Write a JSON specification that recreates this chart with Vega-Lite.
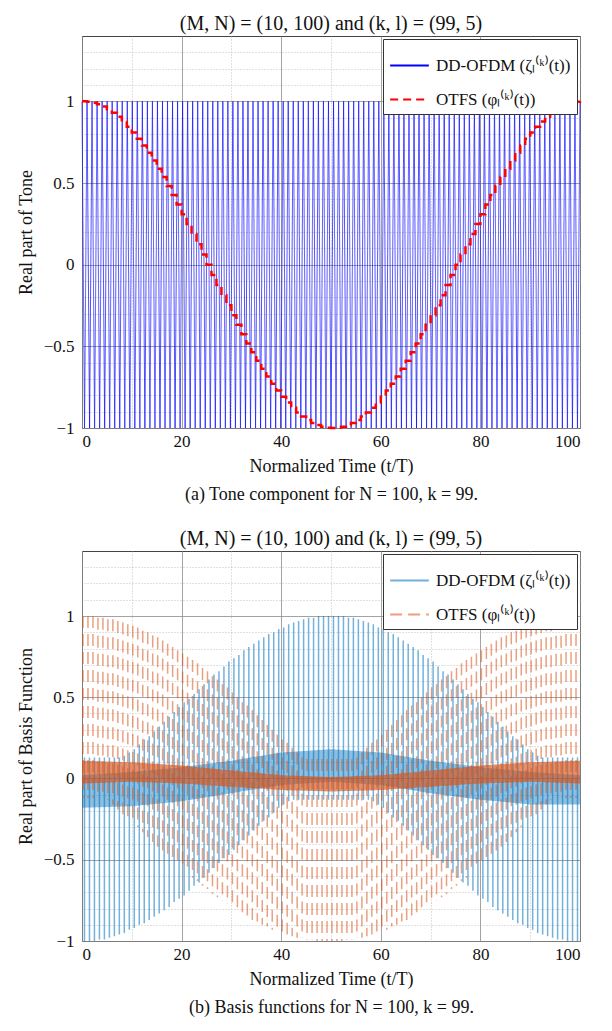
{
"$schema": "https://vega.github.io/schema/vega-lite/v6.json",
"padding": {"left": 16, "top": 13, "right": 8, "bottom": 4},
"background": "white",
"spacing": 24,
"config": {
  "font": "Liberation Serif",
  "view": {"stroke": "#444", "strokeWidth": 1},
  "axis": {"domain": false, "ticks": false, "grid": true, "gridWidth": 0.8, "labelFont": "Liberation Serif", "labelFontSize": 17, "labelColor": "#111", "titleFont": "Liberation Serif", "titleFontSize": 18, "titleFontWeight": "normal", "titleColor": "#111"},
  "axisX": {"labelPadding": 5, "titlePadding": 8, "titleLineHeight": 28},
  "axisY": {"labelPadding": 8, "titlePadding": 8},
  "title": {"font": "Liberation Serif", "fontSize": 20, "fontWeight": "normal", "color": "#111", "offset": 2, "anchor": "middle"},
  "legend": {"orient": "top-right", "offset": 3, "padding": 6, "strokeColor": "#333", "fillColor": "white", "labelFont": "Liberation Serif", "labelFontSize": 17, "labelColor": "#111", "symbolType": "stroke", "symbolSize": 1500, "symbolStrokeWidth": 1.8, "rowPadding": 5, "labelLimit": 400, "labelOffset": 6, "cornerRadius": 0}
},
"resolve": {"scale": {"color": "independent", "strokeDash": "independent"}, "legend": {"color": "independent", "strokeDash": "independent"}},
"datasets": {
  "topBlue": [{"t":0,"v":1},{"t":0.51,"v":-1},{"t":1.01,"v":1},{"t":1.52,"v":-1},{"t":2.02,"v":1},{"t":2.53,"v":-1},{"t":3.03,"v":1},{"t":3.54,"v":-1},{"t":4.04,"v":1},{"t":4.55,"v":-1},{"t":5.05,"v":1},{"t":5.56,"v":-1},{"t":6.06,"v":1},{"t":6.57,"v":-1},{"t":7.07,"v":1},{"t":7.58,"v":-1},{"t":8.08,"v":1},{"t":8.59,"v":-1},{"t":9.09,"v":1},{"t":9.6,"v":-1},{"t":10.1,"v":1},{"t":10.61,"v":-1},{"t":11.11,"v":1},{"t":11.62,"v":-1},{"t":12.12,"v":1},{"t":12.63,"v":-1},{"t":13.13,"v":1},{"t":13.64,"v":-1},{"t":14.14,"v":1},{"t":14.65,"v":-1},{"t":15.15,"v":1},{"t":15.66,"v":-1},{"t":16.16,"v":1},{"t":16.67,"v":-1},{"t":17.17,"v":1},{"t":17.68,"v":-1},{"t":18.18,"v":1},{"t":18.69,"v":-1},{"t":19.19,"v":1},{"t":19.7,"v":-1},{"t":20.2,"v":1},{"t":20.71,"v":-1},{"t":21.21,"v":1},{"t":21.72,"v":-1},{"t":22.22,"v":1},{"t":22.73,"v":-1},{"t":23.23,"v":1},{"t":23.74,"v":-1},{"t":24.24,"v":1},{"t":24.75,"v":-1},{"t":25.25,"v":1},{"t":25.76,"v":-1},{"t":26.26,"v":1},{"t":26.77,"v":-1},{"t":27.27,"v":1},{"t":27.78,"v":-1},{"t":28.28,"v":1},{"t":28.79,"v":-1},{"t":29.29,"v":1},{"t":29.8,"v":-1},{"t":30.3,"v":1},{"t":30.81,"v":-1},{"t":31.31,"v":1},{"t":31.82,"v":-1},{"t":32.32,"v":1},{"t":32.83,"v":-1},{"t":33.33,"v":1},{"t":33.84,"v":-1},{"t":34.34,"v":1},{"t":34.85,"v":-1},{"t":35.35,"v":1},{"t":35.86,"v":-1},{"t":36.36,"v":1},{"t":36.87,"v":-1},{"t":37.37,"v":1},{"t":37.88,"v":-1},{"t":38.38,"v":1},{"t":38.89,"v":-1},{"t":39.39,"v":1},{"t":39.9,"v":-1},{"t":40.4,"v":1},{"t":40.91,"v":-1},{"t":41.41,"v":1},{"t":41.92,"v":-1},{"t":42.42,"v":1},{"t":42.93,"v":-1},{"t":43.43,"v":1},{"t":43.94,"v":-1},{"t":44.44,"v":1},{"t":44.95,"v":-1},{"t":45.45,"v":1},{"t":45.96,"v":-1},{"t":46.46,"v":1},{"t":46.97,"v":-1},{"t":47.47,"v":1},{"t":47.98,"v":-1},{"t":48.48,"v":1},{"t":48.99,"v":-1},{"t":49.49,"v":1},{"t":50,"v":-1},{"t":50.51,"v":1},{"t":51.01,"v":-1},{"t":51.52,"v":1},{"t":52.02,"v":-1},{"t":52.53,"v":1},{"t":53.03,"v":-1},{"t":53.54,"v":1},{"t":54.04,"v":-1},{"t":54.55,"v":1},{"t":55.05,"v":-1},{"t":55.56,"v":1},{"t":56.06,"v":-1},{"t":56.57,"v":1},{"t":57.07,"v":-1},{"t":57.58,"v":1},{"t":58.08,"v":-1},{"t":58.59,"v":1},{"t":59.09,"v":-1},{"t":59.6,"v":1},{"t":60.1,"v":-1},{"t":60.61,"v":1},{"t":61.11,"v":-1},{"t":61.62,"v":1},{"t":62.12,"v":-1},{"t":62.63,"v":1},{"t":63.13,"v":-1},{"t":63.64,"v":1},{"t":64.14,"v":-1},{"t":64.65,"v":1},{"t":65.15,"v":-1},{"t":65.66,"v":1},{"t":66.16,"v":-1},{"t":66.67,"v":1},{"t":67.17,"v":-1},{"t":67.68,"v":1},{"t":68.18,"v":-1},{"t":68.69,"v":1},{"t":69.19,"v":-1},{"t":69.7,"v":1},{"t":70.2,"v":-1},{"t":70.71,"v":1},{"t":71.21,"v":-1},{"t":71.72,"v":1},{"t":72.22,"v":-1},{"t":72.73,"v":1},{"t":73.23,"v":-1},{"t":73.74,"v":1},{"t":74.24,"v":-1},{"t":74.75,"v":1},{"t":75.25,"v":-1},{"t":75.76,"v":1},{"t":76.26,"v":-1},{"t":76.77,"v":1},{"t":77.27,"v":-1},{"t":77.78,"v":1},{"t":78.28,"v":-1},{"t":78.79,"v":1},{"t":79.29,"v":-1},{"t":79.8,"v":1},{"t":80.3,"v":-1},{"t":80.81,"v":1},{"t":81.31,"v":-1},{"t":81.82,"v":1},{"t":82.32,"v":-1},{"t":82.83,"v":1},{"t":83.33,"v":-1},{"t":83.84,"v":1},{"t":84.34,"v":-1},{"t":84.85,"v":1},{"t":85.35,"v":-1},{"t":85.86,"v":1},{"t":86.36,"v":-1},{"t":86.87,"v":1},{"t":87.37,"v":-1},{"t":87.88,"v":1},{"t":88.38,"v":-1},{"t":88.89,"v":1},{"t":89.39,"v":-1},{"t":89.9,"v":1},{"t":90.4,"v":-1},{"t":90.91,"v":1},{"t":91.41,"v":-1},{"t":91.92,"v":1},{"t":92.42,"v":-1},{"t":92.93,"v":1},{"t":93.43,"v":-1},{"t":93.94,"v":1},{"t":94.44,"v":-1},{"t":94.95,"v":1},{"t":95.45,"v":-1},{"t":95.96,"v":1},{"t":96.46,"v":-1},{"t":96.97,"v":1},{"t":97.47,"v":-1},{"t":97.98,"v":1},{"t":98.48,"v":-1},{"t":98.99,"v":1},{"t":99.49,"v":-1},{"t":100,"v":1}],
  "topRed": [{"t":0,"v":1},{"t":1,"v":0.998},{"t":2,"v":0.992},{"t":3,"v":0.982},{"t":4,"v":0.969},{"t":5,"v":0.951},{"t":6,"v":0.93},{"t":7,"v":0.905},{"t":8,"v":0.876},{"t":9,"v":0.844},{"t":10,"v":0.809},{"t":11,"v":0.771},{"t":12,"v":0.729},{"t":13,"v":0.685},{"t":14,"v":0.637},{"t":15,"v":0.588},{"t":16,"v":0.536},{"t":17,"v":0.482},{"t":18,"v":0.426},{"t":19,"v":0.368},{"t":20,"v":0.309},{"t":21,"v":0.249},{"t":22,"v":0.187},{"t":23,"v":0.125},{"t":24,"v":0.063},{"t":25,"v":0},{"t":26,"v":-0.063},{"t":27,"v":-0.125},{"t":28,"v":-0.187},{"t":29,"v":-0.249},{"t":30,"v":-0.309},{"t":31,"v":-0.368},{"t":32,"v":-0.426},{"t":33,"v":-0.482},{"t":34,"v":-0.536},{"t":35,"v":-0.588},{"t":36,"v":-0.637},{"t":37,"v":-0.685},{"t":38,"v":-0.729},{"t":39,"v":-0.771},{"t":40,"v":-0.809},{"t":41,"v":-0.844},{"t":42,"v":-0.876},{"t":43,"v":-0.905},{"t":44,"v":-0.93},{"t":45,"v":-0.951},{"t":46,"v":-0.969},{"t":47,"v":-0.982},{"t":48,"v":-0.992},{"t":49,"v":-0.998},{"t":50,"v":-1},{"t":51,"v":-0.998},{"t":52,"v":-0.992},{"t":53,"v":-0.982},{"t":54,"v":-0.969},{"t":55,"v":-0.951},{"t":56,"v":-0.93},{"t":57,"v":-0.905},{"t":58,"v":-0.876},{"t":59,"v":-0.844},{"t":60,"v":-0.809},{"t":61,"v":-0.771},{"t":62,"v":-0.729},{"t":63,"v":-0.685},{"t":64,"v":-0.637},{"t":65,"v":-0.588},{"t":66,"v":-0.536},{"t":67,"v":-0.482},{"t":68,"v":-0.426},{"t":69,"v":-0.368},{"t":70,"v":-0.309},{"t":71,"v":-0.249},{"t":72,"v":-0.187},{"t":73,"v":-0.125},{"t":74,"v":-0.063},{"t":75,"v":0},{"t":76,"v":0.063},{"t":77,"v":0.125},{"t":78,"v":0.187},{"t":79,"v":0.249},{"t":80,"v":0.309},{"t":81,"v":0.368},{"t":82,"v":0.426},{"t":83,"v":0.482},{"t":84,"v":0.536},{"t":85,"v":0.588},{"t":86,"v":0.637},{"t":87,"v":0.685},{"t":88,"v":0.729},{"t":89,"v":0.771},{"t":90,"v":0.809},{"t":91,"v":0.844},{"t":92,"v":0.876},{"t":93,"v":0.905},{"t":94,"v":0.93},{"t":95,"v":0.951},{"t":96,"v":0.969},{"t":97,"v":0.982},{"t":98,"v":0.992},{"t":99,"v":0.998},{"t":100,"v":1}],
  "botBlue": [{"t":0.5,"p":0.13,"q":-1},{"t":1.5,"p":0.13,"q":-1},{"t":2.5,"p":0.13,"q":-1},{"t":3.5,"p":0.13,"q":-0.99},{"t":4.5,"p":0.13,"q":-0.99},{"t":5.5,"p":0.13,"q":-0.98},{"t":6.5,"p":0.13,"q":-0.97},{"t":7.5,"p":0.13,"q":-0.96},{"t":8.5,"p":0.14,"q":-0.95},{"t":9.5,"p":0.16,"q":-0.93},{"t":10.5,"p":0.18,"q":-0.92},{"t":11.5,"p":0.21,"q":-0.9},{"t":12.5,"p":0.24,"q":-0.89},{"t":13.5,"p":0.26,"q":-0.87},{"t":14.5,"p":0.29,"q":-0.85},{"t":15.5,"p":0.32,"q":-0.83},{"t":16.5,"p":0.35,"q":-0.81},{"t":17.5,"p":0.38,"q":-0.79},{"t":18.5,"p":0.41,"q":-0.76},{"t":19.5,"p":0.44,"q":-0.74},{"t":20.5,"p":0.47,"q":-0.72},{"t":21.5,"p":0.49,"q":-0.69},{"t":22.5,"p":0.52,"q":-0.66},{"t":23.5,"p":0.55,"q":-0.64},{"t":24.5,"p":0.58,"q":-0.61},{"t":25.5,"p":0.61,"q":-0.58},{"t":26.5,"p":0.64,"q":-0.55},{"t":27.5,"p":0.66,"q":-0.52},{"t":28.5,"p":0.69,"q":-0.49},{"t":29.5,"p":0.72,"q":-0.47},{"t":30.5,"p":0.74,"q":-0.44},{"t":31.5,"p":0.76,"q":-0.41},{"t":32.5,"p":0.79,"q":-0.38},{"t":33.5,"p":0.81,"q":-0.35},{"t":34.5,"p":0.83,"q":-0.32},{"t":35.5,"p":0.85,"q":-0.29},{"t":36.5,"p":0.87,"q":-0.26},{"t":37.5,"p":0.89,"q":-0.24},{"t":38.5,"p":0.9,"q":-0.21},{"t":39.5,"p":0.92,"q":-0.18},{"t":40.5,"p":0.93,"q":-0.16},{"t":41.5,"p":0.95,"q":-0.14},{"t":42.5,"p":0.96,"q":-0.13},{"t":43.5,"p":0.97,"q":-0.13},{"t":44.5,"p":0.98,"q":-0.13},{"t":45.5,"p":0.99,"q":-0.13},{"t":46.5,"p":0.99,"q":-0.13},{"t":47.5,"p":1,"q":-0.13},{"t":48.5,"p":1,"q":-0.13},{"t":49.5,"p":1,"q":-0.13},{"t":50.5,"p":1,"q":-0.13},{"t":51.5,"p":1,"q":-0.13},{"t":52.5,"p":1,"q":-0.13},{"t":53.5,"p":0.99,"q":-0.13},{"t":54.5,"p":0.99,"q":-0.13},{"t":55.5,"p":0.98,"q":-0.13},{"t":56.5,"p":0.97,"q":-0.13},{"t":57.5,"p":0.96,"q":-0.13},{"t":58.5,"p":0.95,"q":-0.14},{"t":59.5,"p":0.93,"q":-0.16},{"t":60.5,"p":0.92,"q":-0.18},{"t":61.5,"p":0.9,"q":-0.21},{"t":62.5,"p":0.89,"q":-0.24},{"t":63.5,"p":0.87,"q":-0.26},{"t":64.5,"p":0.85,"q":-0.29},{"t":65.5,"p":0.83,"q":-0.32},{"t":66.5,"p":0.81,"q":-0.35},{"t":67.5,"p":0.79,"q":-0.38},{"t":68.5,"p":0.76,"q":-0.41},{"t":69.5,"p":0.74,"q":-0.44},{"t":70.5,"p":0.72,"q":-0.47},{"t":71.5,"p":0.69,"q":-0.49},{"t":72.5,"p":0.66,"q":-0.52},{"t":73.5,"p":0.64,"q":-0.55},{"t":74.5,"p":0.61,"q":-0.58},{"t":75.5,"p":0.58,"q":-0.61},{"t":76.5,"p":0.55,"q":-0.64},{"t":77.5,"p":0.52,"q":-0.66},{"t":78.5,"p":0.49,"q":-0.69},{"t":79.5,"p":0.47,"q":-0.72},{"t":80.5,"p":0.44,"q":-0.74},{"t":81.5,"p":0.41,"q":-0.76},{"t":82.5,"p":0.38,"q":-0.79},{"t":83.5,"p":0.35,"q":-0.81},{"t":84.5,"p":0.32,"q":-0.83},{"t":85.5,"p":0.29,"q":-0.85},{"t":86.5,"p":0.26,"q":-0.87},{"t":87.5,"p":0.24,"q":-0.89},{"t":88.5,"p":0.21,"q":-0.9},{"t":89.5,"p":0.18,"q":-0.92},{"t":90.5,"p":0.16,"q":-0.93},{"t":91.5,"p":0.14,"q":-0.95},{"t":92.5,"p":0.13,"q":-0.96},{"t":93.5,"p":0.13,"q":-0.97},{"t":94.5,"p":0.13,"q":-0.98},{"t":95.5,"p":0.13,"q":-0.99},{"t":96.5,"p":0.13,"q":-0.99},{"t":97.5,"p":0.13,"q":-1},{"t":98.5,"p":0.13,"q":-1},{"t":99.5,"p":0.13,"q":-1}],
  "botOrange": [{"t":0.2,"p":1,"q":-0.12},{"t":1.2,"p":1,"q":-0.12},{"t":2.2,"p":1,"q":-0.12},{"t":3.2,"p":0.99,"q":-0.12},{"t":4.2,"p":0.99,"q":-0.12},{"t":5.2,"p":0.98,"q":-0.13},{"t":6.2,"p":0.98,"q":-0.16},{"t":7.2,"p":0.97,"q":-0.19},{"t":8.2,"p":0.96,"q":-0.22},{"t":9.2,"p":0.95,"q":-0.24},{"t":10.2,"p":0.94,"q":-0.27},{"t":11.2,"p":0.93,"q":-0.3},{"t":12.2,"p":0.91,"q":-0.33},{"t":13.2,"p":0.9,"q":-0.36},{"t":14.2,"p":0.88,"q":-0.39},{"t":15.2,"p":0.87,"q":-0.42},{"t":16.2,"p":0.85,"q":-0.45},{"t":17.2,"p":0.83,"q":-0.47},{"t":18.2,"p":0.81,"q":-0.5},{"t":19.2,"p":0.79,"q":-0.53},{"t":20.2,"p":0.77,"q":-0.56},{"t":21.2,"p":0.75,"q":-0.58},{"t":22.2,"p":0.73,"q":-0.61},{"t":23.2,"p":0.71,"q":-0.63},{"t":24.2,"p":0.68,"q":-0.66},{"t":25.2,"p":0.66,"q":-0.68},{"t":26.2,"p":0.63,"q":-0.71},{"t":27.2,"p":0.61,"q":-0.73},{"t":28.2,"p":0.58,"q":-0.75},{"t":29.2,"p":0.56,"q":-0.77},{"t":30.2,"p":0.53,"q":-0.79},{"t":31.2,"p":0.5,"q":-0.81},{"t":32.2,"p":0.47,"q":-0.83},{"t":33.2,"p":0.45,"q":-0.85},{"t":34.2,"p":0.42,"q":-0.87},{"t":35.2,"p":0.39,"q":-0.88},{"t":36.2,"p":0.36,"q":-0.9},{"t":37.2,"p":0.33,"q":-0.91},{"t":38.2,"p":0.3,"q":-0.93},{"t":39.2,"p":0.27,"q":-0.94},{"t":40.2,"p":0.24,"q":-0.95},{"t":41.2,"p":0.22,"q":-0.96},{"t":42.2,"p":0.19,"q":-0.97},{"t":43.2,"p":0.16,"q":-0.98},{"t":44.2,"p":0.13,"q":-0.98},{"t":45.2,"p":0.12,"q":-0.99},{"t":46.2,"p":0.12,"q":-0.99},{"t":47.2,"p":0.12,"q":-1},{"t":48.2,"p":0.12,"q":-1},{"t":49.2,"p":0.12,"q":-1},{"t":50.2,"p":0.12,"q":-1},{"t":51.2,"p":0.12,"q":-1},{"t":52.2,"p":0.12,"q":-1},{"t":53.2,"p":0.12,"q":-0.99},{"t":54.2,"p":0.12,"q":-0.99},{"t":55.2,"p":0.13,"q":-0.98},{"t":56.2,"p":0.16,"q":-0.98},{"t":57.2,"p":0.19,"q":-0.97},{"t":58.2,"p":0.22,"q":-0.96},{"t":59.2,"p":0.24,"q":-0.95},{"t":60.2,"p":0.27,"q":-0.94},{"t":61.2,"p":0.3,"q":-0.93},{"t":62.2,"p":0.33,"q":-0.91},{"t":63.2,"p":0.36,"q":-0.9},{"t":64.2,"p":0.39,"q":-0.88},{"t":65.2,"p":0.42,"q":-0.87},{"t":66.2,"p":0.45,"q":-0.85},{"t":67.2,"p":0.47,"q":-0.83},{"t":68.2,"p":0.5,"q":-0.81},{"t":69.2,"p":0.53,"q":-0.79},{"t":70.2,"p":0.56,"q":-0.77},{"t":71.2,"p":0.58,"q":-0.75},{"t":72.2,"p":0.61,"q":-0.73},{"t":73.2,"p":0.63,"q":-0.71},{"t":74.2,"p":0.66,"q":-0.68},{"t":75.2,"p":0.68,"q":-0.66},{"t":76.2,"p":0.71,"q":-0.63},{"t":77.2,"p":0.73,"q":-0.61},{"t":78.2,"p":0.75,"q":-0.58},{"t":79.2,"p":0.77,"q":-0.56},{"t":80.2,"p":0.79,"q":-0.53},{"t":81.2,"p":0.81,"q":-0.5},{"t":82.2,"p":0.83,"q":-0.47},{"t":83.2,"p":0.85,"q":-0.45},{"t":84.2,"p":0.87,"q":-0.42},{"t":85.2,"p":0.88,"q":-0.39},{"t":86.2,"p":0.9,"q":-0.36},{"t":87.2,"p":0.91,"q":-0.33},{"t":88.2,"p":0.93,"q":-0.3},{"t":89.2,"p":0.94,"q":-0.27},{"t":90.2,"p":0.95,"q":-0.24},{"t":91.2,"p":0.96,"q":-0.22},{"t":92.2,"p":0.97,"q":-0.19},{"t":93.2,"p":0.98,"q":-0.16},{"t":94.2,"p":0.98,"q":-0.13},{"t":95.2,"p":0.99,"q":-0.12},{"t":96.2,"p":0.99,"q":-0.12},{"t":97.2,"p":1,"q":-0.12},{"t":98.2,"p":1,"q":-0.12},{"t":99.2,"p":1,"q":-0.12}],
  "bandBlue": [{"t":0,"p":0.02,"q":-0.18},{"t":10,"p":0.04,"q":-0.17},{"t":20,"p":0.07,"q":-0.14},{"t":30,"p":0.11,"q":-0.09},{"t":40,"p":0.16,"q":-0.04},{"t":50,"p":0.18,"q":-0.02},{"t":60,"p":0.16,"q":-0.04},{"t":70,"p":0.11,"q":-0.09},{"t":80,"p":0.07,"q":-0.13},{"t":90,"p":0.04,"q":-0.16},{"t":100,"p":0.02,"q":-0.16}],
  "bandOrange": [{"t":0,"p":0.11,"q":-0.03},{"t":10,"p":0.1,"q":-0.02},{"t":20,"p":0.08,"q":-0.03},{"t":30,"p":0.05,"q":-0.05},{"t":40,"p":0.02,"q":-0.07},{"t":50,"p":0.01,"q":-0.08},{"t":60,"p":0.02,"q":-0.07},{"t":70,"p":0.05,"q":-0.05},{"t":80,"p":0.08,"q":-0.03},{"t":90,"p":0.1,"q":-0.02},{"t":100,"p":0.11,"q":-0.03}]
},
"vconcat": [
  {
    "title": "(M, N) = (10, 100) and (k, l) = (99, 5)",
    "width": 498,
    "height": 392,
    "resolve": {"axis": {"y": "independent"}},
    "layer": [
      {
        "data": {"name": "topBlue"},
        "mark": {"type": "line", "strokeWidth": 0.7},
        "encoding": {
          "x": {"field": "t", "type": "quantitative", "scale": {"domain": [0, 100], "nice": false},
            "axis": {"values": [0,5,10,15,20,25,30,35,40,45,50,55,60,65,70,75,80,85,90,95,100], "title": ["Normalized Time (t/T)", "(a)  Tone component for N = 100, k = 99."], "format": "d", "labelOverlap": false,
              "labelExpr": "datum.value % 20 === 0 ? datum.label : ''",
              "gridDash": {"condition": {"test": "datum.value % 20 === 0", "value": []}, "value": [1, 2]},
              "gridColor": {"condition": {"test": "datum.value % 20 === 0", "value": "#8c8c8c"}, "value": "#b0b0b0"}}},
          "y": {"field": "v", "type": "quantitative", "scale": {"domain": [-1, 1.4], "nice": false},
            "axis": {"values": [-1, -0.5, 0, 0.5, 1], "title": "Real part of Tone", "format": "~g", "labelOverlap": false, "gridColor": "#8c8c8c"}},
          "color": {"datum": "DD-OFDM (ζₗ⁽ᵏ⁾(t))", "type": "nominal",
            "scale": {"domain": ["DD-OFDM (ζₗ⁽ᵏ⁾(t))", "OTFS (φₗ⁽ᵏ⁾(t))"], "range": ["#0000ff", "#ff0000"]},
            "legend": {"title": null, "symbolStrokeWidth": 2.2}},
          "strokeDash": {"datum": "DD-OFDM (ζₗ⁽ᵏ⁾(t))", "type": "nominal",
            "scale": {"domain": ["DD-OFDM (ζₗ⁽ᵏ⁾(t))", "OTFS (φₗ⁽ᵏ⁾(t))"], "range": [[1, 0], [8, 5]]},
            "legend": {"title": null, "symbolStrokeWidth": 2.2}}
        }
      },
      {
        "data": {"name": "topRed"},
        "mark": {"type": "line", "interpolate": "step-after", "strokeWidth": 2.5},
        "encoding": {
          "x": {"field": "t", "type": "quantitative"},
          "y": {"field": "v", "type": "quantitative",
            "axis": {"orient": "right", "values": [-0.9,-0.8,-0.7,-0.6,-0.4,-0.3,-0.2,-0.1,0.1,0.2,0.3,0.4,0.6,0.7,0.8,0.9,1.1,1.2,1.3], "labels": false, "ticks": false, "title": null, "grid": true, "gridDash": [1, 2], "gridColor": "#b0b0b0"}},
          "color": {"datum": "OTFS (φₗ⁽ᵏ⁾(t))", "type": "nominal", "legend": {"title": null, "symbolStrokeWidth": 2.2}},
          "strokeDash": {"datum": "OTFS (φₗ⁽ᵏ⁾(t))", "type": "nominal", "legend": {"title": null, "symbolStrokeWidth": 2.2}}
        }
      }
    ]
  },
  {
    "title": "(M, N) = (10, 100) and (k, l) = (99, 5)",
    "width": 498,
    "height": 390,
    "resolve": {"axis": {"y": "independent"}},
    "layer": [
      {
        "data": {"name": "botBlue"},
        "mark": {"type": "rule", "strokeWidth": 1.5, "opacity": 0.55},
        "encoding": {
          "x": {"field": "t", "type": "quantitative", "scale": {"domain": [0, 100], "nice": false},
            "axis": {"values": [0,5,10,15,20,25,30,35,40,45,50,55,60,65,70,75,80,85,90,95,100], "title": ["Normalized Time (t/T)", "(b)  Basis functions for N = 100, k = 99."], "format": "d", "labelOverlap": false,
              "labelExpr": "datum.value % 20 === 0 ? datum.label : ''",
              "gridDash": {"condition": {"test": "datum.value % 20 === 0", "value": []}, "value": [1, 2]},
              "gridColor": {"condition": {"test": "datum.value % 20 === 0", "value": "#8c8c8c"}, "value": "#b0b0b0"}}},
          "y": {"field": "p", "type": "quantitative", "scale": {"domain": [-1, 1.4], "nice": false},
            "axis": {"values": [-1, -0.5, 0, 0.5, 1], "title": "Real part of Basis Function", "format": "~g", "labelOverlap": false, "gridColor": "#8c8c8c"}},
          "y2": {"field": "q"},
          "color": {"datum": "DD-OFDM (ζₗ⁽ᵏ⁾(t))", "type": "nominal",
            "scale": {"domain": ["DD-OFDM (ζₗ⁽ᵏ⁾(t))", "OTFS (φₗ⁽ᵏ⁾(t))"], "range": ["#0072BD", "#D95319"]},
            "legend": {"title": null}},
          "strokeDash": {"datum": "DD-OFDM (ζₗ⁽ᵏ⁾(t))", "type": "nominal",
            "scale": {"domain": ["DD-OFDM (ζₗ⁽ᵏ⁾(t))", "OTFS (φₗ⁽ᵏ⁾(t))"], "range": [[1, 0], [12, 6]]},
            "legend": {"title": null}}
        }
      },
      {
        "data": {"name": "bandBlue"},
        "mark": {"type": "area", "color": "#0072BD", "opacity": 0.45},
        "encoding": {
          "x": {"field": "t", "type": "quantitative"},
          "y": {"field": "p", "type": "quantitative",
            "axis": {"orient": "right", "values": [-0.9,-0.8,-0.7,-0.6,-0.4,-0.3,-0.2,-0.1,0.1,0.2,0.3,0.4,0.6,0.7,0.8,0.9,1.1,1.2,1.3], "labels": false, "ticks": false, "title": null, "grid": true, "gridDash": [1, 2], "gridColor": "#b0b0b0"}},
          "y2": {"field": "q"}
        }
      },
      {
        "data": {"name": "botOrange"},
        "mark": {"type": "rule", "strokeWidth": 1.5, "opacity": 0.55},
        "encoding": {
          "x": {"field": "t", "type": "quantitative"},
          "y": {"field": "p", "type": "quantitative", "axis": null},
          "y2": {"field": "q"},
          "color": {"datum": "OTFS (φₗ⁽ᵏ⁾(t))", "type": "nominal", "legend": {"title": null}},
          "strokeDash": {"datum": "OTFS (φₗ⁽ᵏ⁾(t))", "type": "nominal", "legend": {"title": null}}
        }
      },
      {
        "data": {"name": "bandOrange"},
        "mark": {"type": "area", "color": "#D95319", "opacity": 0.65},
        "encoding": {
          "x": {"field": "t", "type": "quantitative"},
          "y": {"field": "p", "type": "quantitative", "axis": null},
          "y2": {"field": "q"}
        }
      }
    ]
  }
]
}
